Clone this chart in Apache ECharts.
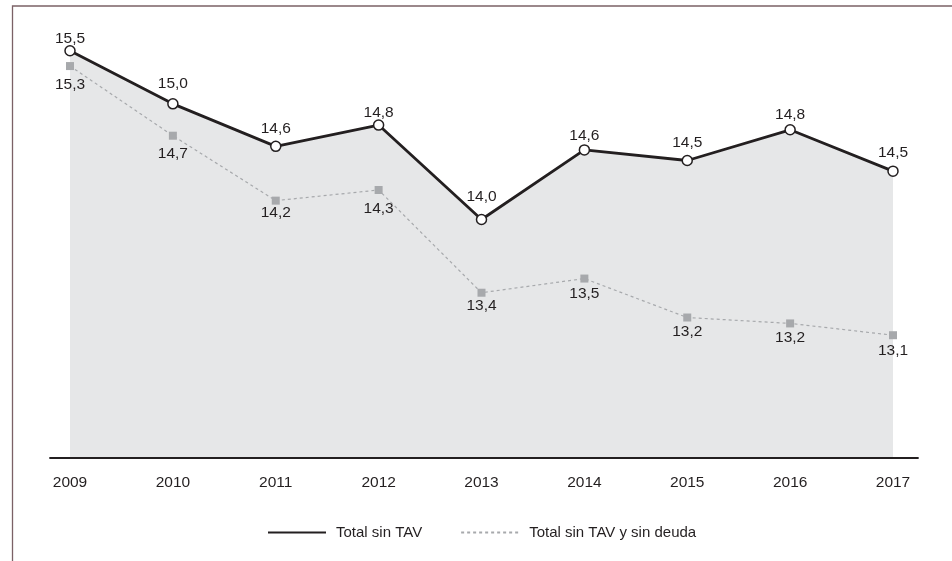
<!DOCTYPE html>
<html><head><meta charset="utf-8">
<script src="https://cdn.jsdelivr.net/npm/echarts@6/dist/echarts.min.js"></script>
<style>html,body{margin:0;padding:0;background:#fff}#chart{width:952px;height:561px}</style>
</head><body><div id="chart"></div>
<script>
// ---- data ----
const years = ['2009', '2010', '2011', '2012', '2013', '2014', '2015', '2016', '2017'];
const seriesNames = ['Total sin TAV', 'Total sin TAV y sin deuda'];
// plotted values
const totalSinTAV = [15.45, 15.00, 14.64, 14.82, 14.02, 14.61, 14.52, 14.78, 14.43];
const totalSinTAVSinDeuda = [15.32, 14.73, 14.18, 14.27, 13.40, 13.52, 13.19, 13.14, 13.04];
// printed values (as shown on the chart)
const totalSinTAVPrinted = [15.5, 15.0, 14.6, 14.8, 14.0, 14.6, 14.5, 14.8, 14.5];
const totalSinTAVSinDeudaPrinted = [15.3, 14.7, 14.2, 14.3, 13.4, 13.5, 13.2, 13.2, 13.1];

// ---- style ----
const FONT = '"Liberation Sans", Arial, Helvetica, sans-serif';
const TXT = '#231f20';
const labelShift1 = [5, -3, 0, 5, -6, 3, -1, 2, -1];
const labelShift2 = [3, 3, -3, 3, -2.5, -0.5, -1.5, -1, -0.5];
const fmt = v => v.toFixed(1).replace('.', ',');

const chart = echarts.init(document.getElementById('chart'), null, {renderer: 'canvas'});
const option = {
  animation: false,
  backgroundColor: '#ffffff',
  textStyle: {fontFamily: FONT, color: TXT},
  grid: [
    {left: 70, right: 59, top: 33, bottom: 103, containLabel: false},
    {left: 50, right: 34, top: 33, bottom: 103, containLabel: false}
  ],
  xAxis: [
    {
      type: 'category', gridIndex: 0, data: years, boundaryGap: false,
      axisLine: {show: false}, axisTick: {show: false}, splitLine: {show: false},
      axisLabel: {color: TXT, fontSize: 15.5, fontFamily: FONT, margin: 17}
    },
    {
      type: 'value', gridIndex: 1, min: 0, max: 1, z: 6,
      axisLine: {show: true, onZero: false, lineStyle: {color: '#231f20', width: 1.8}},
      axisTick: {show: false}, axisLabel: {show: false}, splitLine: {show: false}
    }
  ],
  yAxis: [
    {type: 'value', gridIndex: 0, min: 12, max: 15.6, show: false, splitLine: {show: false}},
    {type: 'value', gridIndex: 1, min: 0, max: 1, show: false, splitLine: {show: false}}
  ],
  legend: {
    left: 262, top: 520,
    itemWidth: 58, itemHeight: 3, itemGap: 38,
    itemStyle: {opacity: 0},
    textStyle: {color: TXT, fontSize: 15, fontFamily: FONT, padding: [0, 0, 0, 5]},
    data: seriesNames
  },
  series: [
    {
      name: seriesNames[0], type: 'line', xAxisIndex: 0, yAxisIndex: 0,
      z: 2,
      data: totalSinTAV.map((v, i) => ({
        value: v,
        label: {offset: [0, labelShift1[i]], formatter: () => fmt(totalSinTAVPrinted[i])}
      })),
      symbol: 'circle', symbolSize: 10, showAllSymbol: true,
      lineStyle: {color: '#231f20', width: 2.8},
      itemStyle: {color: '#ffffff', borderColor: '#231f20', borderWidth: 1.5},
      areaStyle: {color: '#e6e7e8', opacity: 1, origin: 'start'},
      label: {show: true, position: 'top', distance: 3.5, color: TXT, fontSize: 15.5, fontFamily: FONT},
      emphasis: {disabled: true}
    },
    {
      name: seriesNames[1], type: 'line', xAxisIndex: 0, yAxisIndex: 0,
      z: 3,
      data: totalSinTAVSinDeuda.map((v, i) => ({
        value: v,
        label: {offset: [0, labelShift2[i]], formatter: () => fmt(totalSinTAVSinDeudaPrinted[i])}
      })),
      symbol: 'rect', symbolSize: 8, showAllSymbol: true,
      lineStyle: {color: '#a7a9ac', width: 1.2, type: [3, 3]},
      itemStyle: {color: '#a7a9ac'},
      label: {show: true, position: 'bottom', distance: 3.5, color: TXT, fontSize: 15.5, fontFamily: FONT},
      emphasis: {disabled: true}
    }
  ],
  graphic: [
    {
      type: 'polyline', silent: true, z: 10,
      shape: {points: [[12.5, 561], [12.5, 6], [952, 6]]},
      style: {stroke: '#7b6166', lineWidth: 1.3, fill: null}
    }
  ]
};
chart.setOption(option);
</script>
</body></html>
